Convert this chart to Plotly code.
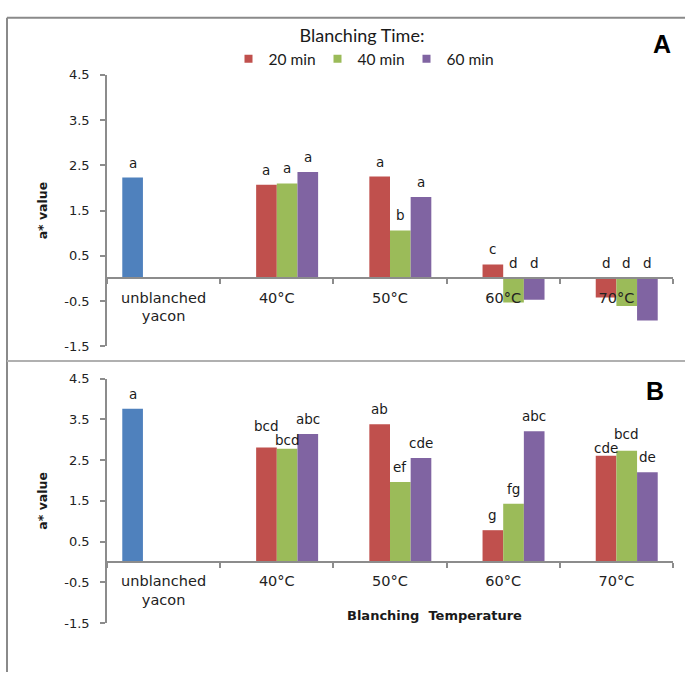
import plotly.graph_objects as go

# ---------------- data ----------------
categories = ["unblanched<br>yacon", "40°C", "50°C", "60°C", "70°C"]
series_names = ["20 min", "40 min", "60 min"]

# Panel A
a_unblanched = [2.23, None, None, None, None]
a_20 = [None, 2.07, 2.25, 0.31, -0.42]
a_40 = [None, 2.10, 1.06, -0.53, -0.61]
a_60 = [None, 2.35, 1.80, -0.47, -0.93]
a_letters_unbl = ["a", None, None, None, None]
a_letters_20 = [None, "a", "a", "c", "d"]
a_letters_40 = [None, "a", "b", "d", "d"]
a_letters_60 = [None, "a", "a", "d", "d"]

# Panel B
b_unblanched = [3.76, None, None, None, None]
b_20 = [None, 2.81, 3.38, 0.78, 2.61]
b_40 = [None, 2.78, 1.96, 1.43, 2.73]
b_60 = [None, 3.14, 2.55, 3.21, 2.20]
b_letters_unbl = ["a", None, None, None, None]
b_letters_20 = [None, "bcd", "ab", "g", "cde"]
b_letters_40 = [None, "bcd", "ef", "fg", "bcd"]
b_letters_60 = [None, "abc", "cde", "abc", "de"]

y_ticks = [-1.5, -0.5, 0.5, 1.5, 2.5, 3.5, 4.5]
y_range = [-1.5, 4.5]

# ---------------- style ----------------
W, H = 685, 680
COL_UNBL = "#4F81BD"
COLS = ["#C0504D", "#9BBB59", "#8064A2"]
AXIS_COL = "#8C8C8C"
TXT = "#1a1a1a"
FONT = "DejaVu Sans"
BARGAP = 0.27
N_SLOTS = 4

x_dom = [107 / W, 673 / W]
domA = [1 - 347 / H, 1 - 69.3 / H]
domB = [1 - 630 / H, 1 - 380 / H]

# nudges for overlapping letters (panel, series index, category index) -> px
nudge = {("B", 0, 1): 21, ("B", 1, 1): 9, ("B", 0, 4): 8, ("B", 1, 4): 17}
DEFAULT_SHIFT = 15

fig = go.Figure()


def zero_pos(dom):
    return dom[0] + (0 - y_range[0]) / (y_range[1] - y_range[0]) * (dom[1] - dom[0])


annotations = []


def add_panel(tag, xa, ya, unbl, s20, s40, s60, l_unbl, l20, l40, l60):
    all_series = [(unbl, COL_UNBL, "unblanched", l_unbl),
                  (s20, COLS[0], series_names[0], l20),
                  (s40, COLS[1], series_names[1], l40),
                  (s60, COLS[2], series_names[2], l60)]
    slot_w = (1 - BARGAP) / N_SLOTS
    for si, (vals, col, name, letters) in enumerate(all_series):
        fig.add_trace(go.Bar(
            x=categories, y=vals, name=name, marker=dict(color=col, line=dict(width=0)),
            xaxis=xa, yaxis=ya, showlegend=False, legendgroup=name,
        ))
        offset = -(1 - BARGAP) / 2 + slot_w * (si + 0.5)
        for ci, (v, lt) in enumerate(zip(vals, letters)):
            if v is None or lt is None:
                continue
            annotations.append(dict(
                x=ci + offset, y=max(v, 0), xref=xa, yref=ya, text=lt, showarrow=False,
                yanchor="middle", xanchor="center",
                yshift=nudge.get((tag, si - 1, ci), DEFAULT_SHIFT),
                font=dict(family=FONT, size=13.5, color=TXT),
            ))


add_panel("A", "x", "y", a_unblanched, a_20, a_40, a_60,
          a_letters_unbl, a_letters_20, a_letters_40, a_letters_60)
add_panel("B", "x2", "y2", b_unblanched, b_20, b_40, b_60,
          b_letters_unbl, b_letters_20, b_letters_40, b_letters_60)

# legend entries (small square swatches like the original)
for name, col in zip(series_names, COLS):
    fig.add_trace(go.Scatter(
        x=[None], y=[None], mode="markers", name=name, legendgroup=name,
        marker=dict(symbol="square", size=8, color=col), xaxis="x", yaxis="y",
        showlegend=True,
    ))

tick_txt = [f"{t:.1f}" for t in y_ticks]

xaxis_common = dict(
    type="category", range=[-0.5, len(categories) - 0.5], showline=True,
    linecolor=AXIS_COL, linewidth=1.5, ticks="outside", tickson="boundaries",
    ticklen=5, tickcolor=AXIS_COL, tickwidth=1.5, showgrid=False, zeroline=False,
    tickfont=dict(family=FONT, size=14.5, color="#222"), ticklabelstandoff=6,
    domain=x_dom, anchor="free", fixedrange=True,
)
yaxis_common = dict(
    range=y_range, tickmode="array", tickvals=y_ticks, ticktext=tick_txt,
    showline=True, linecolor=AXIS_COL, linewidth=1.5, ticks="outside", ticklen=5,
    tickcolor=AXIS_COL, tickwidth=1.5, showgrid=False, zeroline=False,
    tickfont=dict(family=FONT, size=13, color="#222"), ticklabelstandoff=8,
    title=dict(text="<b>a* value</b>", font=dict(family=FONT, size=12.5, color=TXT), standoff=14),
)

fig.update_layout(
    width=W, height=H, margin=dict(l=0, r=0, t=0, b=0),
    paper_bgcolor="white", plot_bgcolor="white",
    barmode="group", bargap=BARGAP, bargroupgap=0,
    xaxis=dict(**xaxis_common, position=zero_pos(domA)),
    yaxis=dict(**yaxis_common, domain=domA, anchor="x"),
    xaxis2=dict(**xaxis_common, position=zero_pos(domB)),
    yaxis2=dict(**yaxis_common, domain=domB, anchor="x2"),
    legend=dict(
        orientation="h", x=362 / W, xanchor="center", y=1 - 12 / H, yanchor="top",
        font=dict(family="Lato", size=15.5, color=TXT),
        title=dict(text="Blanching Time:", side="top center",
                   font=dict(family="Lato", size=18, color=TXT)),
        itemwidth=30, entrywidth=44, entrywidthmode="pixels",
        bgcolor="rgba(0,0,0,0)", traceorder="normal",
    ),
    showlegend=True,
)

# panel letters and axis title
annotations.append(dict(x=662 / W, y=1 - 38 / H, xref="paper", yref="paper", text="<b>A</b>",
                        xanchor="center", yanchor="middle",
                        showarrow=False, font=dict(family="Liberation Sans", size=25, color="black")))
annotations.append(dict(x=655 / W, y=1 - 393 / H, xref="paper", yref="paper", text="<b>B</b>",
                        xanchor="center", yanchor="middle",
                        showarrow=False, font=dict(family="Liberation Sans", size=25, color="black")))
annotations.append(dict(x=434 / W, y=1 - 622 / H, xref="paper", yref="paper",
                        text="<b>Blanching  Temperature</b>", showarrow=False,
                        xanchor="center", yanchor="middle",
                        font=dict(family=FONT, size=13, color=TXT)))
fig.update_layout(annotations=annotations)

# frame lines
frame = dict(color="#8a8a8a", width=2)
fig.add_shape(type="line", xref="paper", yref="paper", x0=7 / W, x1=1, y0=1 - 11 / H, y1=1 - 11 / H, line=frame)
fig.add_shape(type="line", xref="paper", yref="paper", x0=7 / W, x1=7 / W, y0=0, y1=1 - 11 / H, line=frame)
fig.add_shape(type="line", xref="paper", yref="paper", x0=7 / W, x1=1, y0=1 - 362 / H, y1=1 - 362 / H,
              line=dict(color="#b0b0b0", width=2))

fig.write_html("out.html")
